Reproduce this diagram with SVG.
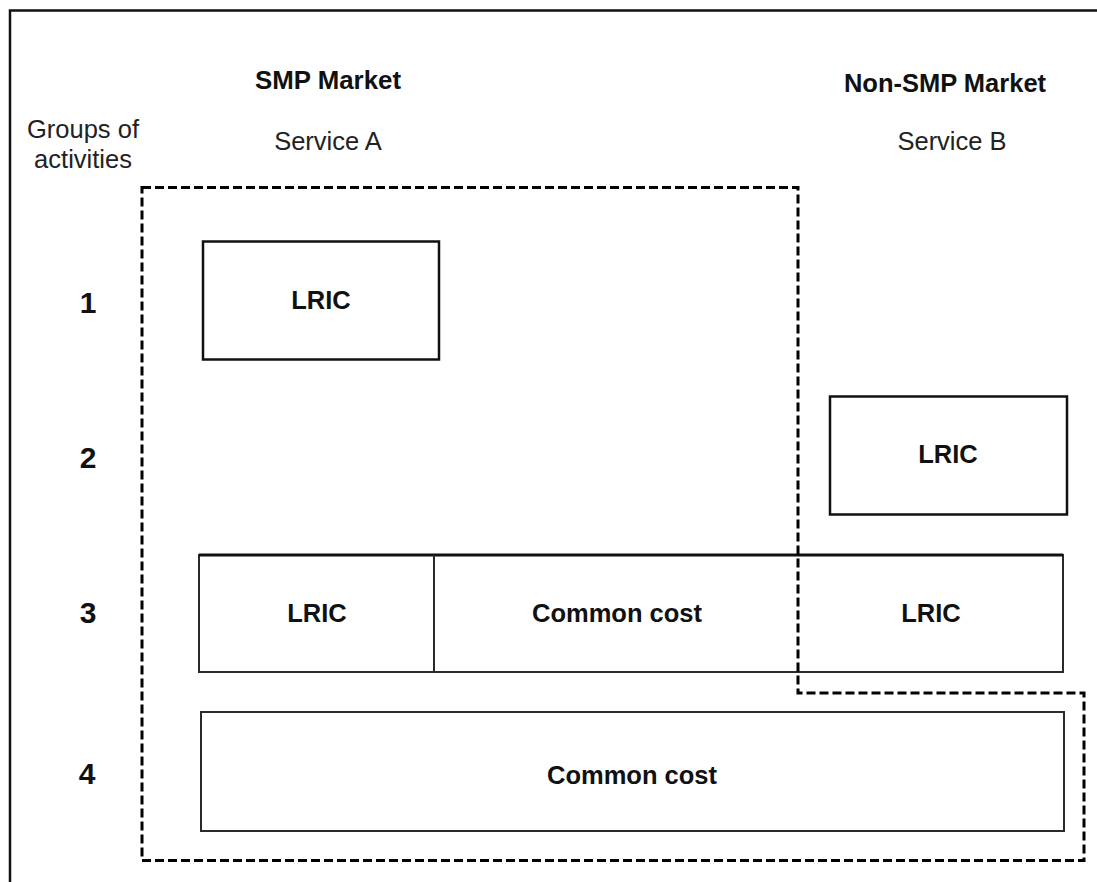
<svg xmlns="http://www.w3.org/2000/svg" width="1097" height="882" viewBox="0 0 1097 882">
  <style>
    text { font-family: "Liberation Sans", Arial, sans-serif; fill: #111; }
    .hdr { font-size: 25.5px; font-weight: bold; text-anchor: middle; }
    .svc { font-size: 25.5px; text-anchor: middle; fill: #222; }
    .num { font-size: 30px; font-weight: bold; text-anchor: middle; }
    .lbl { font-size: 25.5px; font-weight: bold; text-anchor: middle; }
    .box { fill: #fff; stroke: #111; stroke-width: 2.5; }
    .cell { fill: #fff; stroke: #2a2a2a; stroke-width: 2; }
    .frame { fill: none; stroke: #111; stroke-width: 2.5; }
    .scope { fill: none; stroke: #000; stroke-width: 3; stroke-dasharray: 9 4; }
  </style>
  <rect width="1097" height="882" fill="#fff"/>

  <!-- outer figure frame (open to the right and bottom) -->
  <path class="frame" d="M10,882 V10.5 H1097"/>

  <!-- column and row headings -->
  <g id="headings">
    <text class="hdr" x="328" y="89" textLength="146" lengthAdjust="spacingAndGlyphs">SMP Market</text>
    <text class="hdr" x="945" y="92">Non-SMP Market</text>
    <text class="svc" x="328" y="150">Service A</text>
    <text class="svc" x="952" y="150">Service B</text>
    <text class="svc" x="83" y="138">Groups of</text>
    <text class="svc" x="83" y="168">activities</text>
  </g>

  <g id="row-numbers">
    <text class="num" x="88" y="313">1</text>
    <text class="num" x="88" y="468">2</text>
    <text class="num" x="88" y="623">3</text>
    <text class="num" x="87" y="784">4</text>
  </g>

  <!-- group 1: Service A only -->
  <g id="row1-lric">
    <rect class="box" x="203" y="241.5" width="236" height="118"/>
    <text class="lbl" x="321" y="309">LRIC</text>
  </g>

  <!-- group 2: Service B only -->
  <g id="row2-lric">
    <rect class="box" x="830" y="396.5" width="237" height="118"/>
    <text class="lbl" x="948" y="463">LRIC</text>
  </g>

  <!-- group 3: shared activities -->
  <g id="row3">
    <rect class="cell" x="199" y="555" width="864" height="117"/>
    <line x1="199" y1="555" x2="1063" y2="555" stroke="#111" stroke-width="3"/>
    <line x1="434" y1="555" x2="434" y2="672" stroke="#2a2a2a" stroke-width="2"/>
    <text class="lbl" x="317" y="622">LRIC</text>
    <text class="lbl" x="617" y="622">Common cost</text>
    <text class="lbl" x="931" y="622">LRIC</text>
  </g>

  <!-- group 4: common to both services -->
  <g id="row4">
    <rect class="cell" x="201" y="712" width="863" height="119"/>
    <text class="lbl" x="632" y="784">Common cost</text>
  </g>

  <!-- costs attributable to the SMP market -->
  <g id="connectors">
    <path class="scope" d="M142,187.5 H798 V693 H1084 V860.5 H142 Z"/>
  </g>
</svg>
